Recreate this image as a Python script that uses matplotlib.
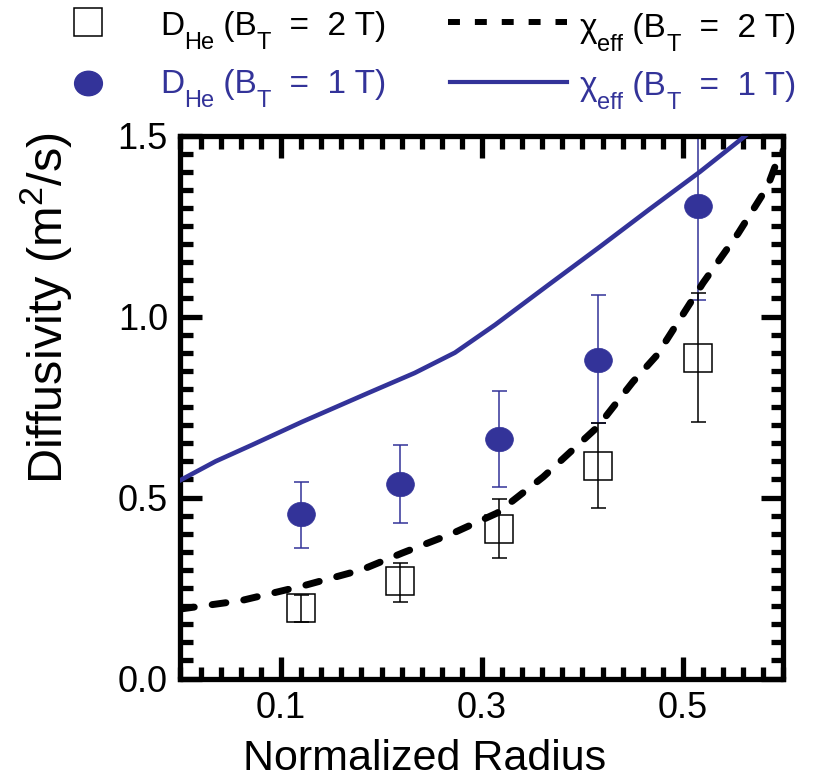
import matplotlib
matplotlib.use('Agg')
import matplotlib.pyplot as plt
import numpy as np
from matplotlib.path import Path
from matplotlib.lines import Line2D
from matplotlib.ticker import MultipleLocator, FixedLocator, FormatStrFormatter

plt.rcParams['font.family'] = ['Liberation Sans', 'DejaVu Sans']
plt.rcParams['mathtext.default'] = 'regular'

BLUE = '#333399'

# He diffusivity at the five radial channels
r_he = np.array([0.120, 0.218, 0.317, 0.415, 0.515])
d_he_2t = np.array([0.195, 0.269, 0.413, 0.587, 0.885])
d_he_2t_lo = np.array([0.156, 0.211, 0.333, 0.471, 0.709])
d_he_2t_hi = np.array([0.231, 0.319, 0.496, 0.706, 1.065])
d_he_1t = np.array([0.454, 0.537, 0.662, 0.880, 1.305])
d_he_1t_lo = np.array([0.360, 0.430, 0.529, 0.706, 1.046])
d_he_1t_hi = np.array([0.543, 0.645, 0.794, 1.060, 1.580])

# effective heat diffusivity profiles
r_chi_2t = [0.0, 0.06, 0.122, 0.18, 0.221, 0.27, 0.315, 0.361, 0.415, 0.45, 0.474,
            0.52, 0.555, 0.584, 0.594, 0.60]
chi_2t = [0.192, 0.215, 0.256, 0.30, 0.347, 0.40, 0.457, 0.557, 0.695, 0.819, 0.893,
          1.093, 1.23, 1.358, 1.432, 1.46]
r_chi_1t = [0.0, 0.035, 0.071, 0.121, 0.187, 0.233, 0.273, 0.313, 0.365, 0.417, 0.467,
            0.517, 0.557, 0.58]
chi_1t = [0.548, 0.60, 0.645, 0.709, 0.789, 0.844, 0.900, 0.977, 1.085, 1.192, 1.297,
          1.40, 1.488, 1.54]

W, H = 820, 778
fig = plt.figure(figsize=(W / 100, H / 100), dpi=100)
ax = fig.add_axes([180.5 / W, 1 - 678.5 / H, 603 / W, 543 / H])

circ = Path.unit_circle()
ellipse = Path(circ.vertices * [1.0, 0.88], circ.codes)

ax.errorbar(r_he, d_he_1t, yerr=[d_he_1t - d_he_1t_lo, d_he_1t_hi - d_he_1t],
            fmt='none', ecolor=BLUE, elinewidth=1.1, capsize=5.4, capthick=1.1, zorder=2)
ax.plot(r_he, d_he_1t, linestyle='none', marker=ellipse, markersize=20,
        markerfacecolor=BLUE, markeredgecolor=BLUE, markeredgewidth=0.5, zorder=3)

ax.plot(r_he, d_he_2t, linestyle='none', marker='s', markersize=20,
        markerfacecolor='white', markeredgecolor='black', markeredgewidth=1.1, zorder=3)
ax.errorbar(r_he, d_he_2t, yerr=[d_he_2t - d_he_2t_lo, d_he_2t_hi - d_he_2t],
            fmt='none', ecolor='black', elinewidth=1.1, capsize=5.4, capthick=1.1, zorder=4)

ax.plot(r_chi_1t, chi_1t, color=BLUE, linewidth=3.3, zorder=5)
ax.plot(r_chi_2t, chi_2t, color='black', linewidth=5.0, dashes=(2.0, 2.6),
        dash_capstyle='round', zorder=6)

ax.set_xlim(0, 0.6)
ax.set_ylim(0, 1.5)
ax.xaxis.set_major_locator(FixedLocator([0.1, 0.3, 0.5]))
ax.xaxis.set_minor_locator(MultipleLocator(0.02))
ax.yaxis.set_major_locator(MultipleLocator(0.5))
ax.yaxis.set_minor_locator(MultipleLocator(0.05))
ax.xaxis.set_major_formatter(FormatStrFormatter('%.1f'))
ax.yaxis.set_major_formatter(FormatStrFormatter('%.1f'))
for s in ax.spines.values():
    s.set_linewidth(3.8)
ax.tick_params(which='both', direction='in', top=True, right=True, width=3.8)
ax.tick_params(which='major', length=16, labelsize=26, pad=9)
ax.tick_params(which='minor', length=9)

fig.text(425 / W, 1 - 770 / H, 'Normalized Radius', fontsize=31,
         ha='center', va='baseline')
fig.text(46 / W, 1 - 308 / H, 'Diffusivity (m$^2$/s)', fontsize=35,
         rotation=90, ha='center', va='center')


def fx(x):
    return x / W


def fy(y):
    return 1 - y / H


# legend drawn above the axes
fig.add_artist(Line2D([fx(88)], [fy(22)], marker='s', markersize=20,
                      markerfacecolor='white', markeredgecolor='black',
                      markeredgewidth=1.1, transform=fig.transFigure))
fig.add_artist(Line2D([fx(88)], [fy(83)], marker=ellipse, markersize=20,
                      markerfacecolor=BLUE, markeredgecolor=BLUE,
                      transform=fig.transFigure))
fig.add_artist(Line2D([fx(448), fx(567)], [fy(22), fy(22)], color='black',
                      linewidth=4.3, dashes=(2.0, 2.5), transform=fig.transFigure))
fig.add_artist(Line2D([fx(450), fx(567)], [fy(82), fy(82)], color=BLUE,
                      linewidth=3.0, transform=fig.transFigure))

renderer = fig.canvas.get_renderer()


def label_row(x, base, parts, color):
    # write text pieces left to right; subscripts are smaller and dropped
    for s, sub in parts:
        size = 17 if sub else 24
        y = base + (14 if sub else 0)
        t = fig.text(fx(x), fy(y), s, fontsize=size, ha='left', va='baseline',
                     color=color)
        x = t.get_window_extent(renderer).x1


label_row(160, 35, [('D', 0), ('He', 1), (' (B', 0), ('T', 1), ('  =  2 T)', 0)], 'black')
label_row(160, 93, [('D', 0), ('He', 1), (' (B', 0), ('T', 1), ('  =  1 T)', 0)], BLUE)
label_row(580, 37, [('χ', 0), ('eff', 1), (' (B', 0), ('T', 1), ('  =  2 T)', 0)], 'black')
label_row(580, 95, [('χ', 0), ('eff', 1), (' (B', 0), ('T', 1), ('  =  1 T)', 0)], BLUE)

fig.savefig('out.png', dpi=100)
